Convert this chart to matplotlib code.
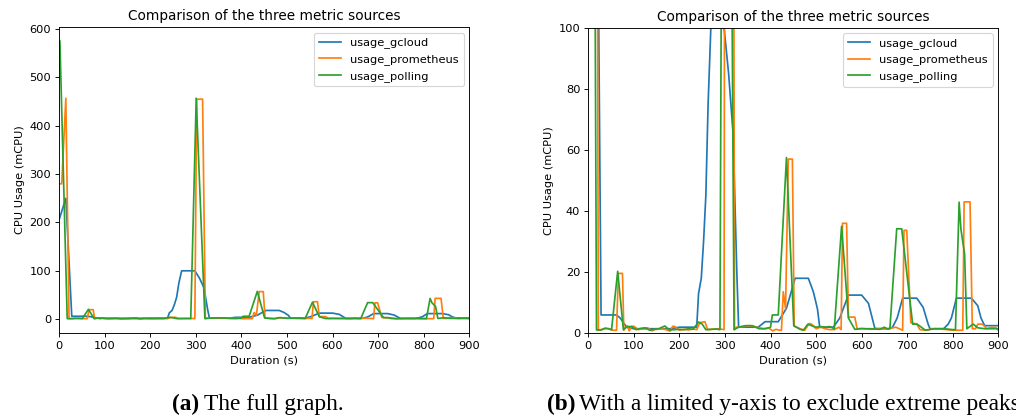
import matplotlib
matplotlib.use("Agg")
import matplotlib.pyplot as plt

# usage_gcloud
t_gcloud = [0, 15, 28, 45, 62, 70, 84, 100, 120, 140, 160, 180, 200, 220, 238,
            242, 248, 253, 258, 263, 269, 298, 308, 318, 326, 330, 350, 373, 388,
            417, 426, 435, 454, 483, 494, 503, 508, 520, 538, 552, 562, 571, 600,
            615, 629, 645, 660, 668, 678, 690, 721, 735, 746, 750, 765, 780, 790,
            797, 808, 841, 855, 862, 870, 885, 900]
v_gcloud = [205, 250, 6, 6, 6, 5, 2, 1.5, 1.5, 1.5, 1.5, 1.5, 2, 2, 2,
            13, 18, 30, 45, 75, 100, 100, 85, 65, 20, 2, 2, 2, 3.8,
            3.8, 6, 8.2, 18, 18, 13.6, 8, 2, 2, 2, 5, 9, 12.5, 12.5,
            9.8, 1.6, 1.5, 1.5, 2, 5, 11.5, 11.5, 8.5, 3, 1.5, 1.5, 1.5, 3,
            5, 11.5, 11.5, 9, 5, 2.5, 2.5, 2.5]

# usage_prometheus
t_prom = [0, 6, 15, 22, 35, 45, 55, 62, 66, 75, 78, 85, 90, 95, 100, 110, 120,
          130, 140, 145, 160, 170, 180, 185, 190, 200, 210, 220, 230, 238, 245,
          256, 262, 270, 285, 298, 302, 315, 321, 325, 340, 355, 370, 385, 395,
          405, 412, 420, 424, 428, 433, 439, 448, 452, 465, 475, 485, 490, 500,
          510, 520, 530, 540, 550, 555, 558, 567, 571, 585, 590, 600, 620, 640,
          660, 675, 690, 693, 699, 708, 721, 728, 740, 760, 780, 800, 815, 822,
          825, 838, 843, 850, 855, 865, 875, 885, 895, 900]
v_prom = [280, 280, 457, 1, 1.5, 1.5, 1, 1, 19.6, 19.6, 1, 2.5, 0.8, 2.3, 2.3, 1.2, 1.5,
          1.8, 0.8, 1.2, 1.5, 1.2, 0.7, 2.3, 2.2, 1.0, 1.3, 1.1, 1.4, 1.2, 3.5,
          3.8, 1.2, 1.3, 1.5, 1.2, 455, 455, 1.2, 2, 2.2, 2.5, 2, 1.5, 1.8,
          0.8, 1.3, 1, 1, 13.6, 8, 57, 57, 2.3, 1.5, 1, 3.2, 3, 1.5,
          2, 1.5, 1.2, 1.2, 2, 1.2, 36, 36, 5.3, 5.3, 1.5, 1.6, 1.3, 1.5,
          1.5, 2, 1, 33.7, 33.7, 3.5, 3, 1.2, 1, 1.5, 1.3, 1, 1, 1,
          43, 43, 1.5, 1.5, 3, 3, 1.5, 2, 1.8, 1]

# usage_polling
t_poll = [2, 18, 29, 37, 45, 51, 64.5, 77, 85, 95, 105, 115, 125, 135, 145, 155,
          168, 178, 190, 200, 210, 220, 230, 242, 250, 258, 270, 280, 289, 301,
          320, 330, 345, 360, 375, 390, 400, 404, 417, 435, 451, 465, 472, 482,
          490, 500, 510, 520, 530, 540, 556, 571, 585, 600, 620, 640, 650, 655,
          662, 677, 688, 712, 722, 740, 760, 780, 800, 806, 814, 818, 826, 831,
          845, 855, 870, 885, 900]
v_poll = [575, 1.1, 1.1, 1.7, 1.5, 1.1, 20.3, 1.2, 2.2, 2.2, 1.2, 1.6, 1.8, 1.0, 1.3, 1.5,
          2.4, 1.1, 1.2, 1.3, 1.2, 1.5, 1.3, 3.7, 3, 1.2, 1.3, 1.4, 1.2, 457,
          1.2, 2, 2.5, 2.5, 1.5, 1.5, 2, 6, 6, 57.5, 2.5, 1.3, 1, 3,
          2.5, 2, 2.2, 2, 2.2, 1.5, 35, 5, 1.3, 1.5, 1.5, 1.3, 2, 1.5,
          1.5, 34.2, 34.2, 3, 3, 1, 1.5, 1.5, 1.2, 1.2, 42.9, 34, 26, 1.5,
          3, 1.8, 1.5, 1.5, 1.5]

W, H = 1016, 418
DPI = 82
fig = plt.figure(figsize=(W / DPI, H / DPI), dpi=DPI)

ax1 = fig.add_axes([59 / W, 1 - 332.7 / H, 410.3 / W, 305.4 / H])
ax2 = fig.add_axes([588.3 / W, 1 - 333.3 / H, 410 / W, 305.6 / H])

for ax in (ax1, ax2):
    ax.plot(t_gcloud, v_gcloud, label="usage_gcloud")
    ax.plot(t_prom, v_prom, label="usage_prometheus")
    ax.plot(t_poll, v_poll, label="usage_polling")
    ax.set_xlim(0, 900)
    ax.set_title("Comparison of the three metric sources")
    ax.set_xlabel("Duration (s)")
    ax.set_ylabel("CPU Usage (mCPU)")
    ax.legend(loc="upper right")

ax2.set_ylim(0, 100)

cap = dict(family="Liberation Serif", size=20.5, va="baseline")
yb = 1 - 410 / H
fig.text(172 / W, yb, "(a)", weight="bold", **cap)
fig.text(204 / W, yb, "The full graph.", **cap)
fig.text(547 / W, yb, "(b)", weight="bold", **cap)
fig.text(579 / W, yb, "With a limited y-axis to exclude extreme peaks.", **cap)

fig.savefig("out.png", dpi=DPI)
